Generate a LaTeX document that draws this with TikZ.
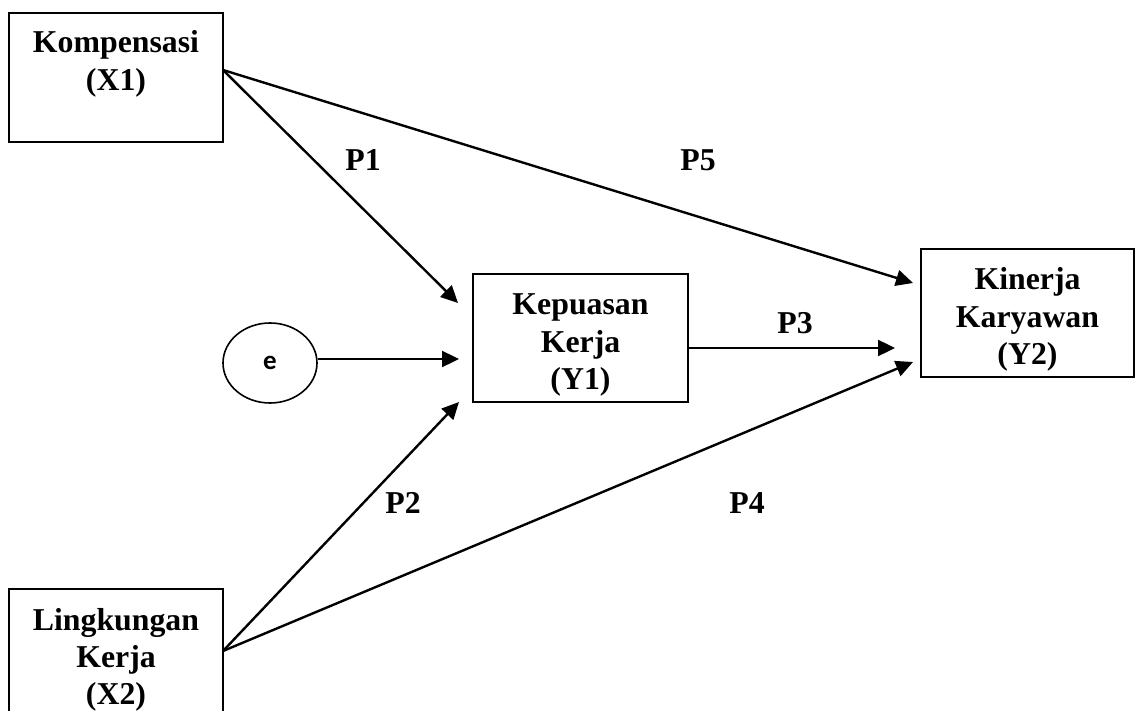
\documentclass[tikz,border=0pt]{standalone}
\usepackage{fontspec}
\setmainfont{Liberation Serif}
\newfontfamily\labelsans{Carlito}
\usetikzlibrary{arrows.meta,shapes.geometric}
\newcommand\boxlines[1]{\begin{tabular}[t]{@{}c@{}}#1\end{tabular}}
\begin{document}
\begin{tikzpicture}[x=0.5pt,y=-0.5pt,
  varbox/.style={draw, line width=1.1pt, inner sep=0pt},
  vartext/.style={inner sep=0pt, anchor=base,
    font=\bfseries\fontsize{15.9}{18.6}\selectfont},
  plabel/.style={inner sep=0pt, font=\bfseries\fontsize{15.9}{18.6}\selectfont},
  path/.style={draw, line width=1.2pt, -{Triangle[length=8.5pt,width=8pt]}}]
\useasboundingbox (0,0) rectangle (1136,711);
\clip (0,0) rectangle (1136,711);

% variable boxes
\node[varbox, minimum width=107pt, minimum height=64.5pt] (x1) at (116,77.5) {};
\node[varbox, minimum width=107pt, minimum height=75.5pt] (x2) at (116,664.5) {};
\node[varbox, minimum width=107.5pt, minimum height=64pt] (y1) at (580.5,338) {};
\node[varbox, minimum width=106.5pt, minimum height=64pt] (y2) at (1027.5,313) {};

% box captions
\node[vartext] (x1t) at (116,53) {\boxlines{Kompensasi\\(X1)}};
\node[vartext] (x2t) at (116,630) {\boxlines{Lingkungan\\Kerja\\(X2)}};
\node[vartext] (y1t) at (580.5,315) {\boxlines{Kepuasan\\Kerja\\(Y1)}};
\node[vartext] (y2t) at (1027.5,290) {\boxlines{Kinerja\\Karyawan\\(Y2)}};

% error term
\node[ellipse, draw, line width=0.8pt, minimum width=47pt, minimum height=40pt,
  inner sep=0pt, font=\labelsans\bfseries\fontsize{13.5}{15}\selectfont] (e) at (270,363) {\raisebox{-1pt}{e}\hspace{4pt}};

% connector ends
\coordinate (x1o) at (223,70);
\coordinate (x2o) at (223,651);
\coordinate (t1) at (458,303);
\coordinate (t2) at (459,402);
\coordinate (te) at (459,359);
\coordinate (t3) at (895,348);
\coordinate (t4) at (913,362);
\coordinate (t5) at (913,283);

% paths
\path[path] (x1o) -- (t1);
\path[path] (x1o) -- (t5);
\path[path] (x2o) -- (t2);
\path[path] (x2o) -- (t4);
\path[path] (e.east |- te) -- (te);
\path[path] (y1.east |- t3) -- (t3);

% path labels
\node[plabel] (p1) at (363,160) {P1};
\node[plabel] (p5) at (698,160) {P5};
\node[plabel] (p3) at (795,323) {P3};
\node[plabel] (p2) at (403,503) {P2};
\node[plabel] (p4) at (747,503) {P4};
\end{tikzpicture}
\end{document}
